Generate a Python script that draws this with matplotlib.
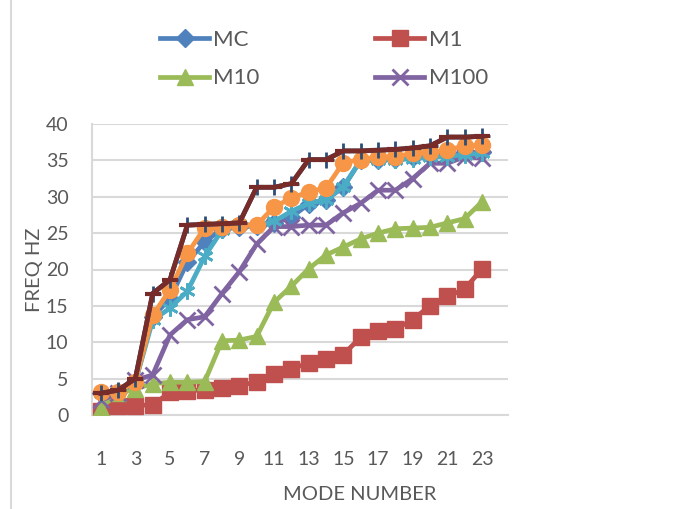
import matplotlib
matplotlib.use("Agg")
import matplotlib.pyplot as plt
from matplotlib.lines import Line2D

modes = list(range(1, 24))
tick_labels = [str(m) for m in range(1, 24, 2)]

mc   = [3.0, 3.2, 4.6, 13.5, 16.0, 21.0, 23.8, 25.6, 25.9, 26.0, 26.4, 27.2, 29.0, 29.6, 31.3, 35.0, 35.0, 35.2, 35.4, 35.6, 35.8, 36.0, 36.1]
m1   = [0.5, 1.2, 1.3, 1.4, 3.1, 3.3, 3.5, 3.7, 4.0, 4.6, 5.6, 6.3, 7.2, 7.7, 8.3, 10.7, 11.6, 11.8, 13.1, 15.0, 16.3, 17.3, 20.1]
m10  = [1.0, 3.0, 3.6, 4.3, 4.5, 4.5, 4.6, 10.2, 10.3, 10.8, 15.5, 17.7, 20.1, 22.0, 23.1, 24.2, 25.0, 25.6, 25.7, 25.8, 26.4, 27.0, 29.3]
m100 = [2.0, 3.0, 4.8, 5.5, 11.0, 13.1, 13.5, 16.7, 19.7, 23.5, 25.9, 25.9, 26.1, 26.1, 27.8, 29.1, 30.9, 30.9, 32.5, 34.6, 34.6, 35.5, 35.3]
s5   = [3.0, 3.2, 4.5, 13.0, 14.7, 17.0, 21.8, 25.4, 26.2, 26.1, 26.6, 28.0, 29.1, 29.6, 31.4, 35.0, 35.0, 35.1, 35.2, 35.5, 35.5, 35.8, 36.0]
s6   = [3.2, 3.2, 4.6, 13.7, 17.2, 22.2, 25.7, 25.9, 26.1, 26.1, 28.6, 29.8, 30.7, 31.2, 34.7, 35.1, 35.5, 35.5, 36.0, 36.1, 36.4, 37.0, 37.1]
s7   = [3.0, 3.4, 5.0, 16.7, 18.6, 26.1, 26.2, 26.3, 26.4, 31.3, 31.3, 31.8, 35.1, 35.1, 36.3, 36.3, 36.4, 36.5, 36.7, 37.0, 38.2, 38.2, 38.3]
s8   = s7

plt.rcParams['font.family'] = ['Lato', 'DejaVu Sans']

W, H = 689, 509
fig = plt.figure(figsize=(W / 100, H / 100), dpi=100)
ax = fig.add_axes([92 / W, (H - 415) / H, (508 - 92) / W, (415 - 124) / H])

ms = 11.5
lw = 3.4
h_mc, = ax.plot(modes, mc, color='#4F81BD', lw=lw, marker='D', ms=9.5, label='MC', zorder=3)
h_m1, = ax.plot(modes, m1, color='#C0504D', lw=lw, marker='s', ms=ms, label='M1', zorder=4)
h_m10, = ax.plot(modes, m10, color='#9BBB59', lw=lw, marker='^', ms=ms, label='M10', zorder=5)
h_m100, = ax.plot(modes, m100, color='#8064A2', lw=lw, marker='x', ms=ms, mew=2, label='M100', zorder=6)
ax.plot(modes, s5, color='#4BACC6', lw=lw, marker=(6, 2, 0), ms=ms, mew=2, zorder=7)
ax.plot(modes, s6, color='#F79646', lw=lw, marker='o', ms=ms, zorder=8)
ax.plot(modes, s7, color='#2C4D75', lw=lw, marker='+', ms=ms, mew=2, zorder=9)
ax.plot(modes, s8, color='#772C2A', lw=lw, marker='_', ms=ms, mew=3, zorder=10)

ax.set_xlim(0.5, 24.5)
ax.set_ylim(0, 40)
ax.set_yticks(range(0, 41, 5))
ax.set_xticks(list(range(1, 24, 2)))
ax.set_xticklabels(tick_labels)
ax.tick_params(axis='both', length=0, labelsize=14, colors='#595959')
ax.tick_params(axis='x', pad=26)
ax.tick_params(axis='y', pad=17)
ax.grid(axis='y', color='#D9D9D9', lw=1.5)
ax.set_axisbelow(True)
for s in ['top', 'right']:
    ax.spines[s].set_visible(False)
for s in ['left', 'bottom']:
    ax.spines[s].set_color('#D9D9D9')
    ax.spines[s].set_linewidth(1.5)

ax.set_ylabel('FREQ HZ', fontsize=14.5, color='#595959', labelpad=2)
fig.text(360 / W, 1 - 494 / H, 'MODE NUMBER', ha='center', va='center', fontsize=14.5, color='#595959')

handles = [h_mc, h_m10, h_m1, h_m100]
labels = ['MC', 'M10', 'M1', 'M100']
leg = fig.legend(handles, labels, ncol=2, loc='center', bbox_to_anchor=(324 / W, 1 - 59 / H),
                 frameon=False, fontsize=16, handlelength=2.2, columnspacing=5.2, labelspacing=0.85,
                 handletextpad=0.2, labelcolor='#595959')

fig.add_artist(Line2D([11 / W, 11 / W], [0, 1], color='#D9D9D9', lw=1.5, transform=fig.transFigure))

fig.savefig('out.png', dpi=100)
